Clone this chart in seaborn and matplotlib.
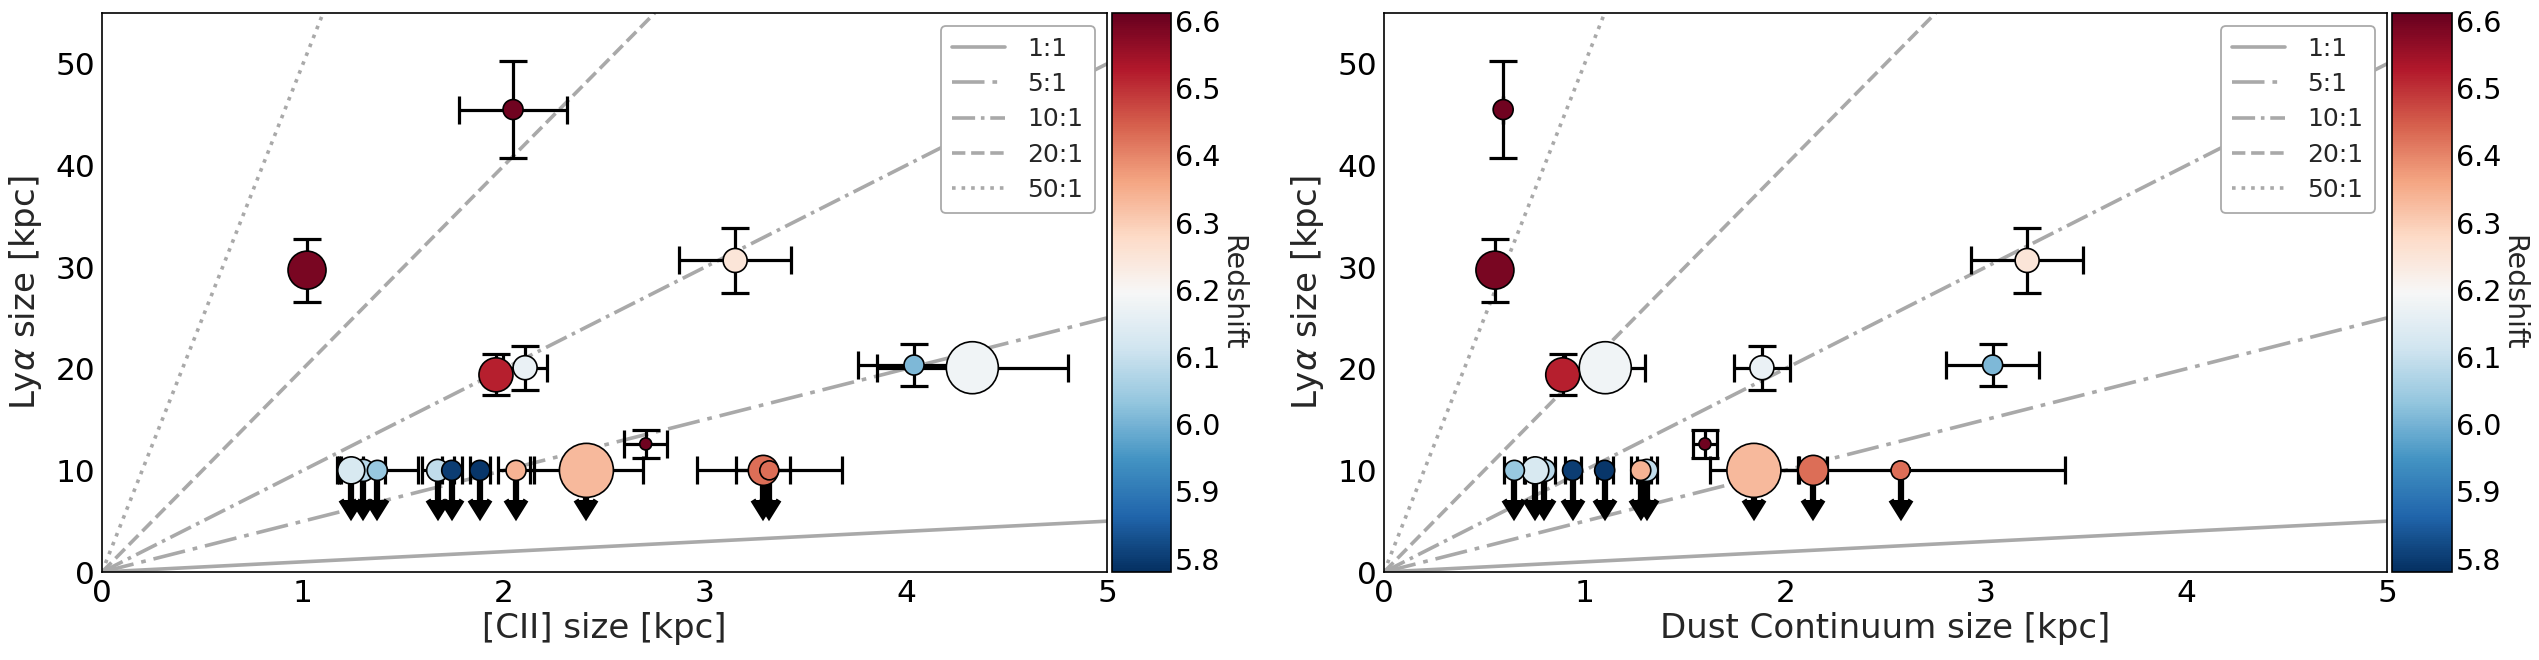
import numpy as np
import pandas as pd
import matplotlib
matplotlib.use("Agg")
import matplotlib.pyplot as plt
import seaborn as sns
from matplotlib.colors import Normalize
from matplotlib.cm import ScalarMappable

# ---------------- data ----------------
# detections first, then Lya upper limits (drawn in this order)
lya_size = [45.5, 29.7, 30.65, 19.4, 20.1, 20.36, 20.1, 12.6,
            10.0, 10.0, 10.0, 10.0, 10.0, 10.0, 10.0, 10.0, 10.0, 10.0]
lya_err = [4.8, 3.1, 3.2, 2.0, 2.15, 2.1, 0.0, 1.35,
           0.0, 0.0, 0.0, 0.0, 0.0, 0.0, 0.0, 0.0, 0.0, 0.0]
is_limit = [False, False, False, False, False, False, False, False,
            True, True, True, True, True, True, True, True, True, True]
redshift = [6.60, 6.59, 6.25, 6.52, 6.17, 6.01, 6.18, 6.60,
            6.08, 6.09, 6.13, 6.04, 5.80, 5.79, 6.34, 6.33, 6.43, 6.43]
marker_diam = [20, 38, 24, 34, 24, 20, 52, 12,
               22, 22, 27, 20, 20, 20, 20, 54, 30, 19]

cii_size = [2.045, 1.02, 3.15, 1.96, 2.105, 4.04, 4.33, 2.705,
            1.30, 1.67, 1.24, 1.37, 1.74, 1.88, 2.06, 2.41, 3.29, 3.32]
cii_err = [0.27, 0.0, 0.28, 0.0, 0.11, 0.28, 0.475, 0.107,
           0.11, 0.08, 0.06, 0.20, 0.05, 0.05, 0.09, 0.28, 0.135, 0.36]

dust_size = [0.594, 0.553, 3.206, 0.891, 1.884, 3.034, 1.103, 1.60,
             0.80, 1.31, 0.754, 0.65, 0.94, 1.10, 1.28, 1.844, 2.14, 2.575]
dust_err = [0.0, 0.0, 0.28, 0.0, 0.14, 0.23, 0.20, 0.06,
            0.05, 0.05, 0.05, 0.05, 0.04, 0.04, 0.05, 0.22, 0.07, 0.82]

ratios = [1, 5, 10, 20, 50]
ratio_labels = ["1:1", "5:1", "10:1", "20:1", "50:1"]

z_ticks = [5.8, 5.9, 6.0, 6.1, 6.2, 6.3, 6.4, 6.5, 6.6]
z_range = (5.78, 6.612)

# ---------------- styling ----------------
sns.set_theme(style="white")
plt.rcParams["font.family"] = ["DejaVu Sans"]
plt.rcParams["mathtext.fontset"] = "dejavusans"

ratio_styles = ["-", (0, (9, 2.2, 1.3, 2.2)), "-.", "--", ":"]
line_color = "#a9a9a9"
DPI = 100

df = pd.DataFrame({
    "lya": lya_size, "lya_err": lya_err, "limit": is_limit, "z": redshift,
    "diam": marker_diam, "cii": cii_size, "cii_err": cii_err,
    "dust": dust_size, "dust_err": dust_err,
})
df["area"] = (df["diam"] * 72.0 / DPI) ** 2

norm = Normalize(*z_range)
cmap = plt.get_cmap("RdBu_r")

fig = plt.figure(figsize=(2539 / DPI, 660 / DPI), dpi=DPI)
W, H = 2539.0, 660.0
y0, y1 = 13, 572
ax_boxes = [(102, 1107, 1112, 1171), (1384, 2387, 2392, 2452)]

panels = [("cii", "cii_err", "[CII] size [kpc]"),
          ("dust", "dust_err", "Dust Continuum size [kpc]")]

arrow_len = 2.9

for (xa, xb, ca, cb_), (xcol, xecol, xlabel) in zip(ax_boxes, panels):
    ax = fig.add_axes([xa / W, (H - y1) / H, (xb - xa) / W, (y1 - y0) / H])
    cax = fig.add_axes([ca / W, (H - y1) / H, (cb_ - ca) / W, (y1 - y0) / H])

    for r, lab, ls in zip(ratios, ratio_labels, ratio_styles):
        ax.axline((0, 0), slope=r, color=line_color, lw=2.6, ls=ls,
                  label=lab, zorder=1)

    det = df[~df["limit"]]
    lim = df[df["limit"]]

    ax.errorbar(det[xcol], det["lya"], xerr=det[xecol], yerr=det["lya_err"],
                fmt="none", ecolor="black", color="black", elinewidth=2.3,
                capsize=10, capthick=2.3, zorder=2)
    ax.errorbar(lim[xcol], lim["lya"], xerr=lim[xecol],
                fmt="none", ecolor="black", color="black", elinewidth=2.3,
                capsize=10, capthick=2.3, zorder=2)
    ax.errorbar(lim[xcol], lim["lya"], yerr=np.full(len(lim), arrow_len),
                uplims=True, fmt="none", ecolor="black", color="black",
                elinewidth=4.5, capsize=7.5, capthick=4.0, zorder=2)

    sns.scatterplot(data=df, x=xcol, y="lya", hue="z", hue_norm=norm,
                    palette="RdBu_r", size="area",
                    sizes={a: a for a in df["area"].unique()},
                    edgecolor="black", linewidth=1.2, legend=False,
                    ax=ax, zorder=3)

    ax.set_xlim(0, 5)
    ax.set_ylim(0, 55)
    ax.set_xticks([0, 1, 2, 3, 4, 5])
    ax.set_yticks([0, 10, 20, 30, 40, 50])
    ax.tick_params(direction="in", length=6, width=1.2, labelsize=22.5,
                   colors="black", pad=5)
    for sp in ax.spines.values():
        sp.set_color("black")
        sp.set_linewidth(1.2)
    ax.set_xlabel(xlabel, fontsize=24.5, labelpad=3)
    ax.set_ylabel(r"Ly$\alpha$ size [kpc]", fontsize=24.5, labelpad=8)

    leg = ax.legend(loc="upper right", fontsize=18, handlelength=2.1,
                    labelspacing=0.45, borderpad=0.45, handletextpad=0.9,
                    borderaxespad=0.5, frameon=True, fancybox=True,
                    framealpha=1.0)
    leg.get_frame().set_edgecolor("#aaaaaa")
    leg.get_frame().set_linewidth(1.3)

    sm = ScalarMappable(norm=norm, cmap=cmap)
    cb = fig.colorbar(sm, cax=cax, ticks=z_ticks, format="%.1f")
    cb.outline.set_edgecolor("black")
    cb.outline.set_linewidth(1.2)
    cax.tick_params(direction="in", length=6, width=1.5, labelsize=20.5,
                    colors="black", pad=3)
    cb.set_label("Redshift", rotation=270, fontsize=20.5, labelpad=-2,
                 va="bottom")

fig.savefig("out.png", dpi=DPI)
